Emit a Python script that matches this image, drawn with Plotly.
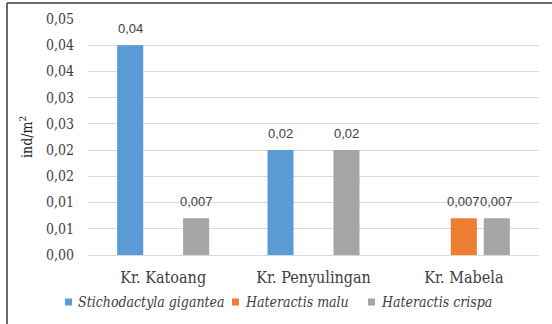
import plotly.graph_objects as go
from decimal import Decimal, ROUND_HALF_UP

# Sampling sites (x categories)
sites = ["Kr. Katoang", "Kr. Penyulingan", "Kr. Mabela"]

# Anemone species and their density (ind/m²) per site
species = ["Stichodactyla gigantea", "Hateractis malu", "Hateractis crispa"]
colors = ["#5B9BD5", "#ED7D31", "#A5A5A5"]
stichodactyla_gigantea = [0.04, 0.02, None]
hateractis_malu = [None, None, 0.007]
hateractis_crispa = [0.007, 0.02, 0.007]
series = [stichodactyla_gigantea, hateractis_malu, hateractis_crispa]

# Y axis ticks, printed with two decimals and a decimal comma
y_ticks = [0.0, 0.005, 0.01, 0.015, 0.02, 0.025, 0.03, 0.035, 0.04, 0.045]


def two_dec(v):
    d = Decimal(str(v)).quantize(Decimal("0.01"), rounding=ROUND_HALF_UP)
    return f"{d:.2f}".replace(".", ",")


y_ticktext = [two_dec(v) for v in y_ticks]

SERIF = "DejaVu Serif Condensed, DejaVu Serif"
SANS = "Liberation Sans, Arial, sans-serif"

BARGAP = 0.342
GROUPGAP = 0.21

fig = go.Figure()
for name, vals, col in zip(species, series, colors):
    fig.add_trace(go.Bar(
        x=sites, y=vals, name=name, marker_color=col,
        marker_line_width=0, showlegend=False,
    ))

# Value labels above each bar
slot = (1 - BARGAP) / len(series)
annotations = []
for k, vals in enumerate(series):
    for i, v in enumerate(vals):
        if v is None:
            continue
        annotations.append(dict(
            x=i + (k - (len(series) - 1) / 2) * slot, y=v,
            xref="x", yref="y", text=str(v).replace(".", ","),
            showarrow=False, yanchor="bottom", yshift=7,
            font=dict(family=SANS, size=13, color="#404040"),
        ))

# Legend row along the bottom
legend_x_px = [65, 232, 368]
PLOT_L, PLOT_W, PLOT_T, PLOT_H = 88, 451, 19, 236
shapes = []
for name, col, px in zip(species, colors, legend_x_px):
    x0 = (px - PLOT_L) / PLOT_W
    y_mid = 1 - (302 - PLOT_T) / PLOT_H
    half = 3.5 / PLOT_H
    shapes.append(dict(type="rect", xref="paper", yref="paper",
                       x0=x0, x1=x0 + 7 / PLOT_W, y0=y_mid - half, y1=y_mid + half,
                       fillcolor=col, line_width=0))
    annotations.append(dict(
        x=x0 + 11 / PLOT_W, y=y_mid, xref="paper", yref="paper",
        xanchor="left", yanchor="middle", showarrow=False,
        text=f"<i>{name}</i>",
        font=dict(family=SERIF, size=14, color="#404040"),
    ))

# Outer chart frame (top and left edges)
fl = (7 - PLOT_L) / PLOT_W
ft = 1 + (PLOT_T - 3) / PLOT_H
shapes.append(dict(type="line", xref="paper", yref="paper",
                   x0=fl, x1=fl, y0=ft, y1=-1, line=dict(color="#3a3a3a", width=1.5)))
shapes.append(dict(type="line", xref="paper", yref="paper",
                   x0=fl, x1=2, y0=ft, y1=ft, line=dict(color="#3a3a3a", width=1.5)))

fig.update_layout(
    width=552, height=324,
    margin=dict(l=PLOT_L, r=552 - PLOT_L - PLOT_W, t=PLOT_T, b=324 - PLOT_T - PLOT_H),
    paper_bgcolor="white", plot_bgcolor="white",
    barmode="group", bargap=BARGAP, bargroupgap=GROUPGAP,
    showlegend=False,
    annotations=annotations, shapes=shapes,
    xaxis=dict(
        showline=True, linecolor="#D9D9D9", linewidth=1,
        tickfont=dict(family=SERIF, size=16, color="#404040"),
        ticks="", ticklabelstandoff=8,
    ),
    yaxis=dict(
        range=[0, 0.045], tickvals=y_ticks, ticktext=y_ticktext,
        showgrid=True, gridcolor="#D9D9D9", gridwidth=1,
        zeroline=False, showline=False, ticks="",
        tickfont=dict(family=SERIF, size=14, color="#404040"),
        ticklabelstandoff=13,
        title=dict(text="ind/m<sup>2</sup>", standoff=10,
                   font=dict(family=SERIF, size=14, color="#202020")),
    ),
)

fig.write_html("out.html")
